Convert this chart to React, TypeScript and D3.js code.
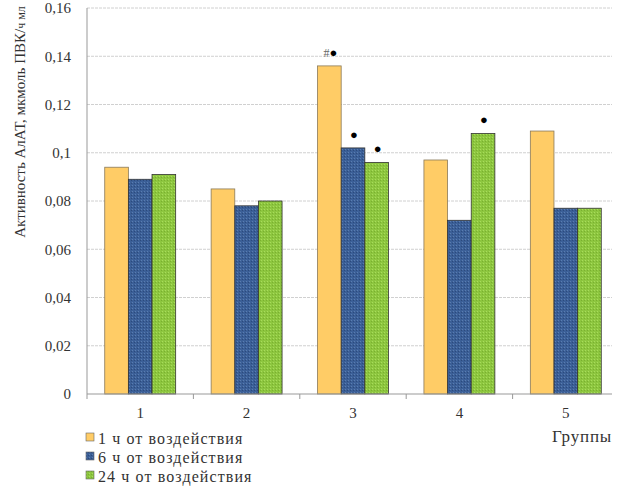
import React from "react";
import * as d3 from "d3";

const groups = ["1", "2", "3", "4", "5"];
const seriesNames = ["1 ч от воздействия", "6 ч от воздействия", "24 ч от воздействия"];
const h1 = [0.094, 0.085, 0.136, 0.097, 0.109];
const h6 = [0.089, 0.078, 0.102, 0.072, 0.077];
const h24 = [0.091, 0.080, 0.096, 0.108, 0.077];
const yTicks = [0, 0.02, 0.04, 0.06, 0.08, 0.1, 0.12, 0.14, 0.16];
// significance marks: [group index, series index, label]
const marks: [number, number, string][] = [
  [2, 0, "#●"],
  [2, 1, "●"],
  [2, 2, "●"],
  [3, 2, "●"],
];

const colors = ["#FFCC66", "#3B5F97", "#8DC63F"];
const fontFamily = "Liberation Serif, serif";

export default function App() {
  const width = 623;
  const height = 490;
  const margin = { top: 8, left: 87 };
  const bandW = 532; // full category span (plot is cut at the right edge)
  const visW = 525;
  const innerH = 386;

  const values = [h1, h6, h24];

  const x = d3.scaleBand().domain(groups).range([0, bandW]).paddingInner(0).paddingOuter(0);
  const xs = d3
    .scaleBand()
    .domain(seriesNames)
    .range([0, x.bandwidth()])
    .paddingInner(0)
    .paddingOuter(0.75);
  const y = d3.scaleLinear().domain([0, 0.16]).range([innerH, 0]);

  const fmt = (v: number) => (v === 0 ? "0" : String(v).replace(".", ","));
  const txt = { fontFamily, fill: "#333" } as React.CSSProperties;

  return (
    <svg width={width} height={height} style={{ position: "absolute", left: 0, top: 0, background: "#fff" }}>
      <defs>
        <pattern id="p1" width="3" height="3" patternUnits="userSpaceOnUse">
          <rect width="3" height="3" fill={colors[1]} />
          <rect x="0" y="0" width="1" height="1" fill="#5a7db0" />
          <rect x="2" y="1" width="1" height="1" fill="#2c4a7c" />
        </pattern>
        <pattern id="p2" width="3" height="3" patternUnits="userSpaceOnUse">
          <rect width="3" height="3" fill={colors[2]} />
          <rect x="0" y="0" width="1" height="1" fill="#a8dc5c" />
          <rect x="2" y="1" width="1" height="1" fill="#7ab030" />
        </pattern>
      </defs>
      <g transform={`translate(${margin.left},${margin.top})`}>
        {yTicks.map((t) => (
          <g key={t}>
            {t > 0 && (
              <line x1={0} x2={visW} y1={y(t)} y2={y(t)} stroke="#d0d0d0" strokeDasharray="3,1" />
            )}
            <text x={-16} y={y(t)} dy="0.35em" textAnchor="end" fontSize={15} style={txt}>
              {fmt(t)}
            </text>
          </g>
        ))}
        {groups.map((g, gi) =>
          values.map((vals, si) => (
            <rect
              key={`${g}-${si}`}
              x={(x(g) ?? 0) + (xs(seriesNames[si]) ?? 0)}
              y={y(vals[gi])}
              width={xs.bandwidth()}
              height={innerH - y(vals[gi])}
              fill={si === 0 ? colors[0] : `url(#p${si})`}
              stroke={si === 0 ? "#8a7a5a" : "#333"}
              strokeWidth={0.8}
            />
          ))
        )}
        {marks.map(([gi, si, label], i) => (
          <text
            key={i}
            x={(x(groups[gi]) ?? 0) + (xs(seriesNames[si]) ?? 0) + xs.bandwidth() / 2 + 1}
            y={y(values[si][gi]) - 9}
            textAnchor="middle"
            fontSize={13}
            style={{ fontFamily, fill: "#000" }}
          >
            {label.length > 1 ? (
              <>
                <tspan style={{ fill: "#666" }} fontSize={12}>#</tspan>
                <tspan>●</tspan>
              </>
            ) : (
              label
            )}
          </text>
        ))}
        <line x1={0} x2={0} y1={0} y2={innerH} stroke="#999" />
        <line x1={0} x2={visW} y1={innerH} y2={innerH} stroke="#999" />
        {d3.range(groups.length).map((i) => (
          <line key={i} x1={i * x.step()} x2={i * x.step()} y1={innerH} y2={innerH + 5} stroke="#999" />
        ))}
        {groups.map((g) => (
          <text
            key={g}
            x={(x(g) ?? 0) + x.bandwidth() / 2}
            y={innerH + 24}
            textAnchor="middle"
            fontSize={15}
            style={txt}
          >
            {g}
          </text>
        ))}
        <text x={visW} y={innerH + 48} textAnchor="end" fontSize={17} letterSpacing={0.8} style={txt}>
          Группы
        </text>
      </g>
      <text
        transform={`translate(25,${122}) rotate(-90)`}
        textAnchor="middle"
        fontSize={15}
        style={txt}
      >
        Активность АлАТ, мкмоль ПВК/<tspan fontSize={12}>ч мл</tspan>
      </text>
      {seriesNames.map((name, i) => (
        <g key={name} transform={`translate(86,${438 + i * 19})`}>
          <rect
            x={0}
            y={-5}
            width={8}
            height={8}
            fill={i === 0 ? colors[0] : `url(#p${i})`}
            stroke="#666"
            strokeWidth={0.6}
          />
          <text x={12} y={0} dy="0.35em" fontSize={16} letterSpacing={1.1} style={txt}>
            {name}
          </text>
        </g>
      ))}
    </svg>
  );
}
